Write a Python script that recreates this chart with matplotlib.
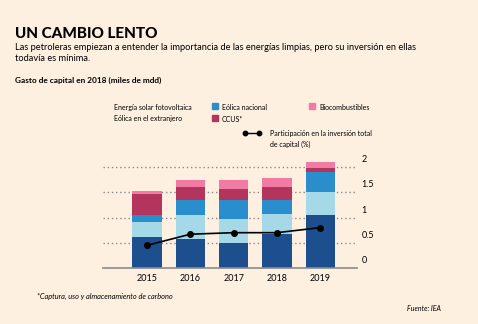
import matplotlib
matplotlib.use("Agg")
import matplotlib.pyplot as plt
import numpy as np
from matplotlib.patches import Rectangle
from matplotlib.lines import Line2D

years = ["2015", "2016", "2017", "2018", "2019"]
solar = [0.62, 0.58, 0.50, 0.68, 1.06]
eolica_ext = [0.29, 0.47, 0.47, 0.40, 0.44]
eolica_nac = [0.15, 0.29, 0.37, 0.26, 0.41]
ccus = [0.41, 0.26, 0.22, 0.26, 0.08]
bio = [0.05, 0.14, 0.19, 0.19, 0.12]
participacion = [0.45, 0.67, 0.70, 0.70, 0.80]
yticks = [0, 0.5, 1, 1.5, 2]
ytick_labels = ["0", "0.5", "1", "1.5", "2"]

series = [
    ("Energía solar fotovoltaica", solar, "#1d4f8f"),
    ("Eólica en el extranjero", eolica_ext, "#a5d9e8"),
    ("Eólica nacional", eolica_nac, "#2a8dcc"),
    ("CCUS*", ccus, "#b3345c"),
    ("Biocombustibles", bio, "#f27ba4"),
]

BG = "#fdf0e1"
plt.rcParams['font.family'] = ['Lato', 'DejaVu Sans']

W, H = 478, 324
fig = plt.figure(figsize=(W / 100, H / 100), dpi=100)
fig.patch.set_facecolor(BG)
renderer = fig.canvas.get_renderer()

def px(x, y):
    return x / W, 1 - y / H

def fit_text(x, y, s, width_px, size0=8, ha="left", **kw):
    t = fig.text(*px(x, y), s, fontsize=size0, va="baseline", ha=ha, **kw)
    w = t.get_window_extent(renderer).width
    t.set_fontsize(size0 * width_px / w)
    return t

# axes: x from 103 to 357 px, y from 157 to 268 px
ax = fig.add_axes([103 / W, 1 - 268 / H, (357 - 103) / W, (268 - 157) / H])
ax.set_facecolor(BG)
x = np.arange(len(years))
bottom = np.zeros(len(years))
for name, vals, col in series:
    ax.bar(x, vals, bottom=bottom, width=0.68, color=col, zorder=3)
    bottom += np.array(vals)
ax.plot(x, participacion, color="black", lw=1.2, marker="o", ms=4, zorder=4)

ax.set_xlim(-1.02, 4.85)
ax.set_ylim(0, 2.2)
for v in yticks[1:]:
    ax.axhline(v, color="#8a8a8a", lw=1.0, ls=(0, (1, 2)), zorder=1)
ax.axhline(0, color="#8a8a8a", lw=1.2, zorder=5, clip_on=False)
for s in ax.spines.values():
    s.set_visible(False)
ax.set_xticks(x)
ax.set_xticklabels(years, fontsize=6.5)
ax.tick_params(axis="x", length=0, pad=4)
ax.set_yticks([])
for v, lab in zip(yticks, ytick_labels):
    ax.text(4.95, v + 0.06, lab, fontsize=6.5, ha="left", va="bottom")

# titles
fig.text(*px(15, 38), "UN CAMBIO LENTO", fontsize=11, fontweight="black", va="baseline")
sub = fit_text(15, 50, "Las petroleras empiezan a entender la importancia de las energías limpias, pero su inversión en ellas", 408)
fig.text(*px(15, 61), "todavía es mínima.", fontsize=sub.get_fontsize(), va="baseline")
fit_text(15, 83, "Gasto de capital en 2018 (miles de mdd)", 148, fontweight="bold")

# legend
l1 = fit_text(114, 110, "Energía solar fotovoltaica", 78)
lfs = l1.get_fontsize()
fig.text(*px(114, 121), "Eólica en el extranjero", fontsize=lfs, va="baseline")
for (xx, yy, col, lab) in [(212, 103, "#2a8dcc", "Eólica nacional"),
                            (212, 115, "#b3345c", "CCUS*"),
                            (309, 103, "#f27ba4", "Biocombustibles")]:
    fig.patches.append(Rectangle(px(xx, yy + 6), 6 / W, 6 / H, transform=fig.transFigure,
                                 color=col, figure=fig))
    fig.text(*px(xx + 10, yy + 7), lab, fontsize=lfs, va="baseline")
fig.lines.append(Line2D([245 / W, 259 / W], [1 - 133 / H] * 2, transform=fig.transFigure,
                        color="black", lw=1.0, marker="o", ms=3.2, figure=fig))
fig.text(*px(270, 136), "Participación en la inversión total", fontsize=lfs, va="baseline")
fig.text(*px(270, 147), "de capital (%)", fontsize=lfs, va="baseline")

# footer
fit_text(37, 299, "*Captura, uso y almacenamiento de carbono", 137, style="italic")
fit_text(441, 311, "Fuente: IEA", 34, ha="right", style="italic")

fig.savefig("out.png", dpi=100, facecolor=BG)
